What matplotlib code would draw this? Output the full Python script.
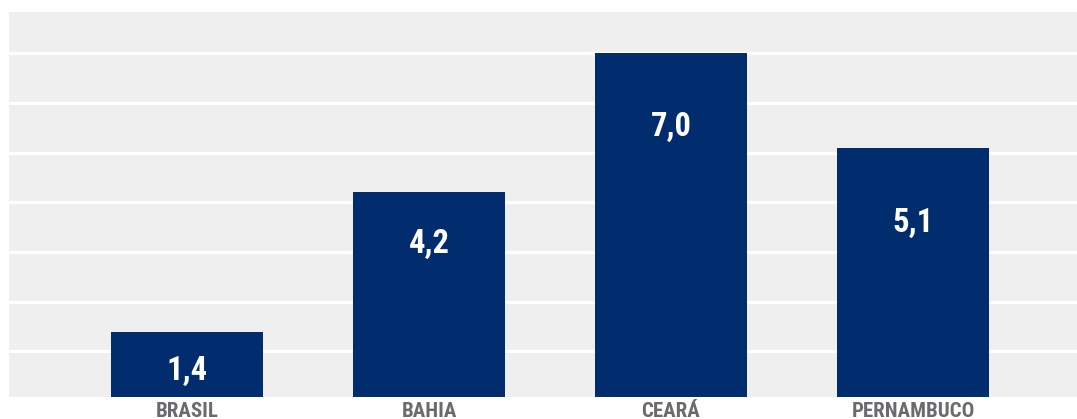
import matplotlib.pyplot as plt
from matplotlib import font_manager

# donnees du graphique
categorias = ['BRASIL', 'BAHIA', 'CEARÁ', 'PERNAMBUCO']
valores = [1.4, 4.2, 7.0, 5.1]
rotulos = ['1,4', '4,2', '7,0', '5,1']

# police etroite (la premiere disponible)
noms = {f.name for f in font_manager.fontManager.ttflist}
police = 'Liberation Sans'
for p in ['Roboto Condensed', 'Archivo Narrow', 'Barlow Semi Condensed', 'Asap Condensed']:
    if p in noms:
        police = p
        break

bleu = '#012d6f'
fond = '#efefef'
gris = '#6b6b6d'

fig = plt.figure(figsize=(10.77, 4.19), dpi=100)
ax = fig.add_axes([9/1077, 22/419, 1068/1077, 385/419])
ax.set_facecolor(fond)

x = list(range(len(categorias)))
ax.bar(x, valores, width=0.628, color=bleu, zorder=3)

ax.set_xlim(-0.736, 3.678)
ax.set_ylim(0.083, 7.83)
ax.set_yticks(range(1, 8))
ax.yaxis.grid(True, color='white', linewidth=2.3, zorder=1)
ax.set_axisbelow(True)
for s in ax.spines.values():
    s.set_visible(False)
ax.tick_params(length=0, labelleft=False)
ax.set_xticks(x)
ax.set_xticklabels(categorias, family=police, fontweight='bold', fontsize=15, color=gris)
ax.tick_params(axis='x', pad=3.5)

# etiquettes dans les barres (decalage sous le sommet)
descente = [0.8, 1.03, 1.48, 1.51]
for xi, v, r, d in zip(x, valores, rotulos, descente):
    ax.text(xi, v - d, r, ha='center', va='center', color='white',
            fontsize=23.5, fontweight='bold', family=police, zorder=4)

fig.savefig('out.png', dpi=100)
